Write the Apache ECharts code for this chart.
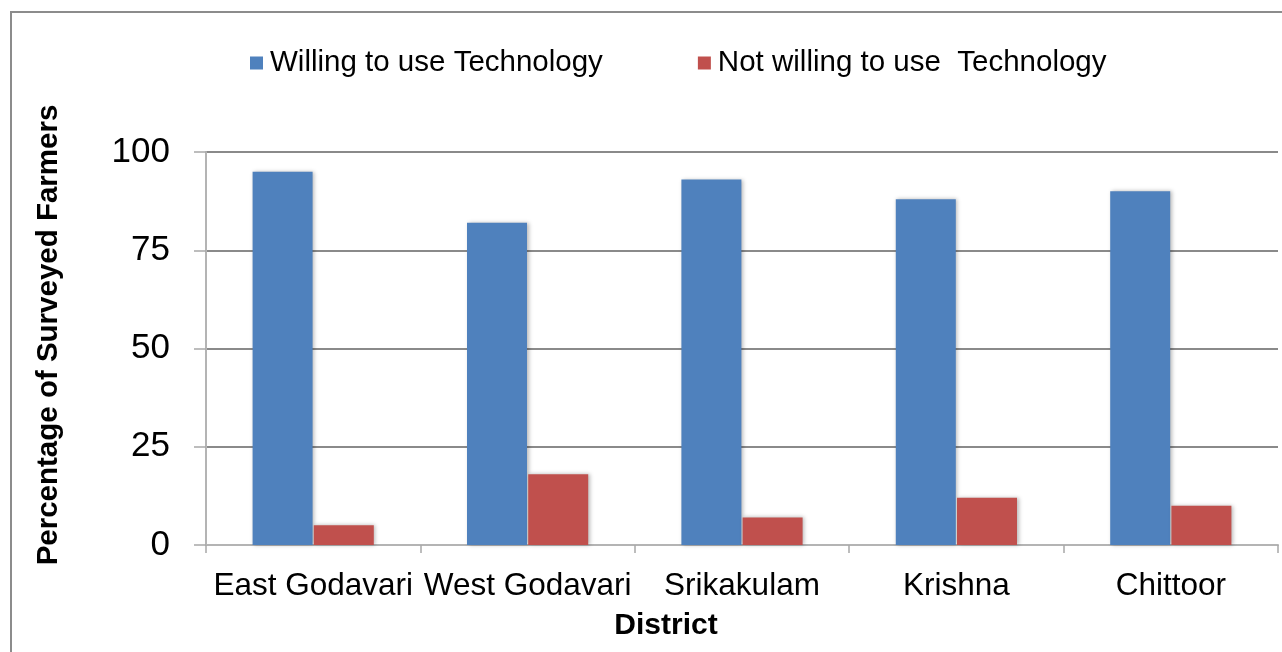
<!DOCTYPE html>
<html>
<head>
<meta charset="utf-8">
<script src="https://cdn.jsdelivr.net/npm/echarts@6/dist/echarts.min.js"></script>
<style>
  html, body { margin: 0; padding: 0; background: #fff; }
  #chart { width: 1282px; height: 652px; }
</style>
</head>
<body>
<div id="chart"></div>
<script>
// Districts surveyed and share of farmers (%) in each answer group
const districts = ['East Godavari', 'West Godavari', 'Srikakulam', 'Krishna', 'Chittoor'];
const willing = [95, 82, 93, 88, 90];
const notWilling = [5, 18, 7, 12, 10];
const seriesNames = ['Willing to use Technology', 'Not willing to use  Technology'];
const yTicks = { min: 0, max: 100, step: 25 };

const FONT = '"Liberation Sans", Arial, Helvetica, sans-serif';
const chart = echarts.init(document.getElementById('chart'), null, { renderer: 'canvas' });

const barStyle = (color) => ({
  color: color,
  shadowColor: 'rgba(0,0,0,0.28)',
  shadowBlur: 4,
  shadowOffsetX: 1.5,
  shadowOffsetY: 0
});

chart.setOption({
  animation: false,
  backgroundColor: '#ffffff',
  graphic: [
    {
      type: 'rect',
      shape: { x: 11, y: 12, width: 1400, height: 800 },
      style: { fill: 'none', stroke: '#8c8c8c', lineWidth: 2 },
      silent: true, z: -1
    },
    {
      type: 'text',
      x: 49, y: 335,
      rotation: Math.PI / 2,
      style: {
        text: 'Percentage of Surveyed Farmers',
        font: 'bold 29.5px ' + FONT,
        fill: '#000',
        textAlign: 'center',
        textVerticalAlign: 'middle'
      }
    },
    {
      type: 'text',
      x: 666, y: 626,
      style: {
        text: 'District',
        font: 'bold 30px ' + FONT,
        fill: '#000',
        textAlign: 'center',
        textVerticalAlign: 'middle'
      }
    }
  ],
  legend: {
    left: 250,
    top: 48,
    padding: 0,
    itemWidth: 13,
    itemHeight: 13,
    itemGap: 95,
    icon: 'rect',
    textStyle: { fontFamily: FONT, fontSize: 29.5, color: '#000', padding: [0, 0, 0, 2] },
    data: seriesNames
  },
  grid: { left: 206, right: 4, top: 152, bottom: 107, containLabel: false },
  xAxis: {
    type: 'category',
    data: districts,
    boundaryGap: true,
    axisLine: { show: true, lineStyle: { color: '#b4b4b4', width: 2 } },
    axisTick: { show: true, length: 8, lineStyle: { color: '#a8a8a8', width: 1.5 } },
    axisLabel: { color: '#000', fontFamily: FONT, fontSize: 31.5, margin: 25, interval: 0 }
  },
  yAxis: {
    type: 'value',
    min: yTicks.min,
    max: yTicks.max,
    interval: yTicks.step,
    axisLine: { show: true, lineStyle: { color: '#b4b4b4', width: 2 } },
    axisTick: { show: true, length: 12, lineStyle: { color: '#a8a8a8', width: 1.5 } },
    axisLabel: { color: '#000', fontFamily: FONT, fontSize: 35, margin: 36, lineHeight: 35, padding: [5, 0, 0, 0] },
    splitLine: { show: true, lineStyle: { color: '#8a8a8a', width: 2 } }
  },
  series: [
    {
      name: seriesNames[0],
      type: 'bar',
      data: willing,
      barWidth: 60,
      barGap: '2%',
      itemStyle: barStyle('#4F81BD')
    },
    {
      name: seriesNames[1],
      type: 'bar',
      data: notWilling,
      barWidth: 60,
      barGap: '2%',
      itemStyle: barStyle('#C0504D')
    }
  ]
});
</script>
</body>
</html>
